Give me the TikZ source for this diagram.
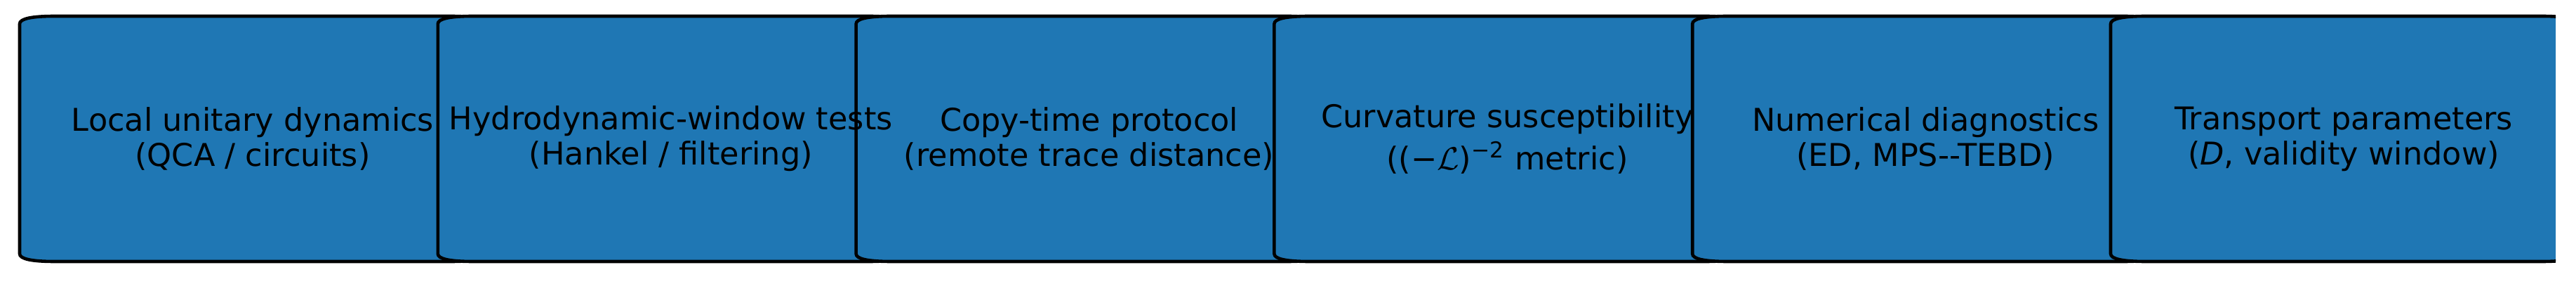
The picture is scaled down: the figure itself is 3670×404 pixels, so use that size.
\documentclass[tikz,border=0pt]{standalone}
\usepackage{fontspec}
\setmainfont{DejaVu Sans}
\definecolor{boxblue}{HTML}{1F77B4}

\begin{document}
\begin{tikzpicture}[x=0.24pt, y=0.24pt, stage/.style={draw=black, fill=boxblue, line width=1.1pt}, main/.style={inner sep=0pt, align=center, font=\fontsize{10.7}{12}\selectfont}]

    \useasboundingbox (0,0) rectangle (3670,404);

    \begin{scope}
    \clip (0,0) rectangle (3641,404);
    \foreach \i in {0,...,5} {
        \pgfmathsetmacro{\xa}{28+595.8*\i}
        \pgfmathsetmacro{\xb}{\xa+664}
        \draw[stage] (\xa+50,32) -- (\xb-50,32) .. controls (\xb-16.7,32) and (\xb,35.7) .. (\xb,43)
            -- (\xb,370) .. controls (\xb,377.3) and (\xb-16.7,381) .. (\xb-50,381)
            -- (\xa+50,381) .. controls (\xa+16.7,381) and (\xa,377.3) .. (\xa,370)
            -- (\xa,43) .. controls (\xa,35.7) and (\xa+16.7,32) .. cycle;
    }
    \end{scope}

    \node[main] (loc) at (360,206.5) {Local unitary dynamics\\(QCA / circuits)};
    \node[main] (hyd) at (955.8,206.5) {Hydrodynamic-window tests\\(Hankel / filtering)};
    \node[main] (cop) at (1551.6,206.5) {Copy-time protocol\\(remote trace distance)};
    \node[main] (cur) at (2147.4,206.5) {Curvature susceptibility\\[2.2pt]((−$\mathcal{L}$)\textsuperscript{−2} metric)};
    \node[main] (num) at (2743.2,206.5) {Numerical diagnostics\\(ED, MPS-{}-TEBD)};
    \node[main] (tra) at (3339,206.5) {Transport parameters\\(\textit{D}, validity window)};

\end{tikzpicture}
\end{document}
